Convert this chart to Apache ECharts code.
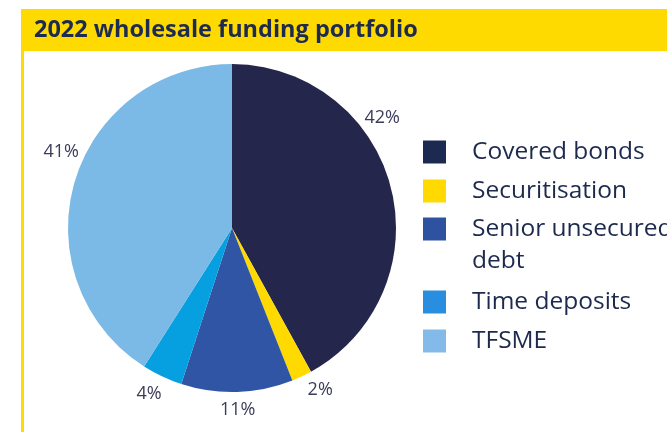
<!DOCTYPE html>
<html>
<head>
<meta charset="utf-8">
<script src="https://cdn.jsdelivr.net/npm/echarts@6/dist/echarts.min.js"></script>
<style>
  html, body { margin: 0; padding: 0; background: #fff; }
  #chart { width: 667px; height: 432px; }
</style>
</head>
<body>
<div id="chart"></div>
<script>
var chart = echarts.init(document.getElementById("chart"));

var names = ["Covered bonds", "Securitisation", "Senior unsecured debt", "Time deposits", "TFSME"];
var values = [42, 2, 11, 4, 41];
var sliceColors = ["#25264c", "#ffda00", "#3055a5", "#069fdf", "#7bbae6"];
var legendColors = ["#1c2a52", "#ffd900", "#2f52a0", "#2a8ee0", "#84baea"];

var pieData = [];
for (var i = 0; i < names.length; i++) {
  pieData.push({
    name: names[i],
    value: values[i],
    itemStyle: { color: sliceColors[i] }
  });
}

function legendItem(i) {
  return { name: names[i], itemStyle: { color: legendColors[i] } };
}

function legendBox(top, gap, items) {
  return {
    orient: "vertical",
    left: 423,
    top: top,
    padding: 0,
    itemWidth: 23,
    itemHeight: 23,
    itemGap: gap,
    icon: "rect",
    selectedMode: false,
    textStyle: {
      fontFamily: "Open Sans",
      fontSize: 24.5,
      lineHeight: 32,
      color: "#1d2a4e",
      padding: [0, 0, 0, 21]
    },
    formatter: function (name) {
      // empty first line keeps "Senior unsecured" level with its square
      return name === "Senior unsecured debt" ? "\nSenior unsecured\ndebt" : name;
    },
    data: items
  };
}

// nudges for labels the original moved off the slice middle
var labelNudge = { 0: [-27, -65], 1: [10, -4], 2: [0, -4], 3: [-5, 0], 4: [5, -25] };

chart.setOption({
  animation: false,
  title: {
    text: "2022 wholesale funding portfolio",
    left: 34,
    top: 17,
    padding: 0,
    textStyle: {
      fontFamily: "Open Sans",
      fontWeight: "bold",
      fontSize: 23.5,
      lineHeight: 26,
      color: "#1e2b50"
    }
  },
  graphic: [
    { type: "rect", z: -1, shape: { x: 21, y: 9, width: 660, height: 42 }, style: { fill: "#ffda00" } },
    { type: "rect", z: -1, shape: { x: 21, y: 50, width: 3, height: 400 }, style: { fill: "#ffda00" } }
  ],
  legend: [
    legendBox(136, 7, [legendItem(0), legendItem(1)]),
    legendBox(181, 0, [legendItem(2)]),
    legendBox(286, 7, [legendItem(3), legendItem(4)])
  ],
  series: [
    {
      type: "pie",
      center: [232, 228],
      radius: 164,
      startAngle: 90,
      clockwise: true,
      data: pieData,
      label: {
        show: true,
        position: "outside",
        formatter: "{c}%",
        fontFamily: "Open Sans",
        fontSize: 18,
        color: "#3a3c5a"
      },
      labelLine: {
        show: true,
        length: 19,
        length2: 0,
        lineStyle: { width: 0, opacity: 0 }
      },
      labelLayout: function (params) {
        var pts = params.labelLinePoints;
        if (!pts) return {};
        var p = pts[1];
        var n = labelNudge[params.dataIndex] || [0, 0];
        return { x: p[0] + n[0], y: p[1] + n[1], align: "center", verticalAlign: "middle" };
      },
      emphasis: { disabled: true }
    }
  ]
});
</script>
</body>
</html>
